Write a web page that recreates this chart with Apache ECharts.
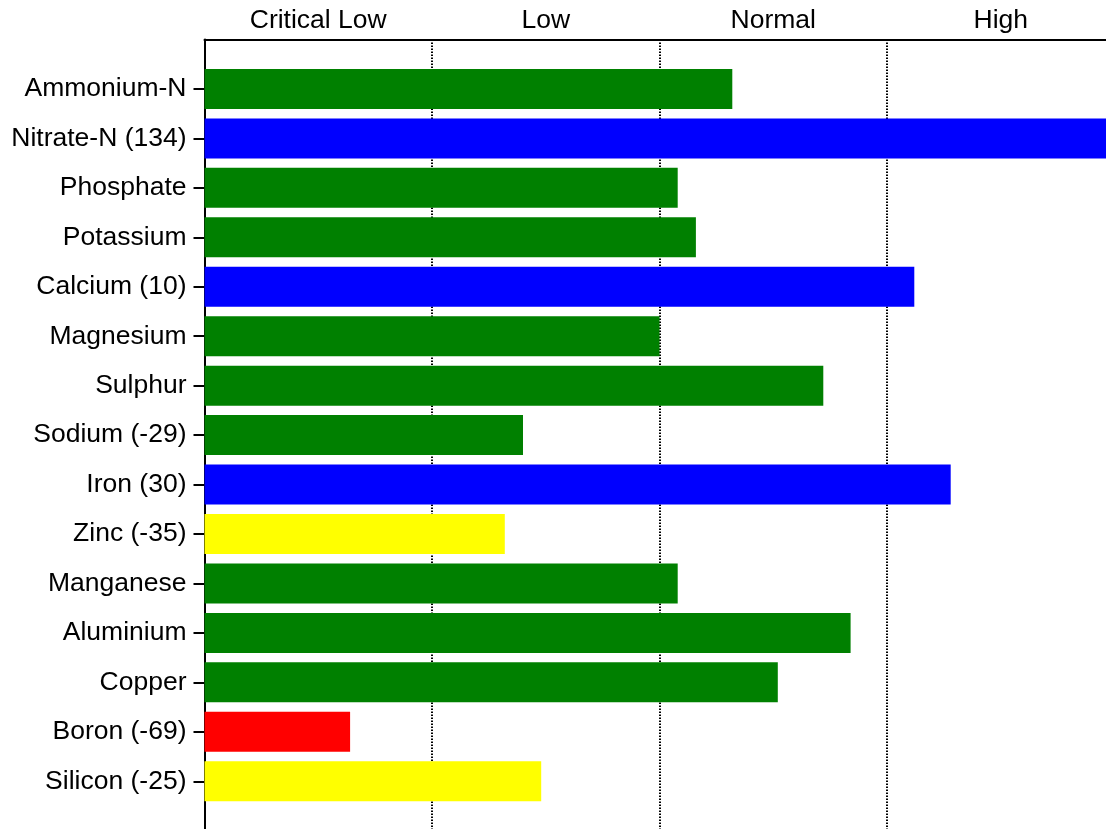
<!DOCTYPE html>
<html><head><meta charset="utf-8">
<script src="https://cdn.jsdelivr.net/npm/echarts@6/dist/echarts.min.js"></script>
<style>html,body{margin:0;padding:0;background:#fff}#c{width:1106px;height:829px}</style>
</head><body><div id="c"></div>
<script>
const categories = ['Ammonium-N','Nitrate-N (134)','Phosphate','Potassium','Calcium (10)','Magnesium','Sulphur','Sodium (-29)','Iron (30)','Zinc (-35)','Manganese','Aluminium','Copper','Boron (-69)','Silicon (-25)'];
const values = [2.32, 4.0, 2.08, 2.16, 3.12, 2.0, 2.72, 1.40, 3.28, 1.32, 2.08, 2.84, 2.52, 0.64, 1.48];
const statuses = ['normal','high','normal','normal','high','normal','normal','normal','high','low','normal','normal','normal','critical','low'];
const zoneLabels = ['Critical Low','Low','Normal','High'];

const statusColors = {normal:'#008000', high:'#0000ff', low:'#ffff00', critical:'#ff0000'};
const yCats = [' '].concat(categories, ['  ']);
const seriesData = ['-'].concat(values.map((v,i)=>({value:v,itemStyle:{color:statusColors[statuses[i]]}})), ['-']);
const font = 'Liberation Sans, Arial, sans-serif';

const chart = echarts.init(document.getElementById('c'));
chart.setOption({
  animation:false,
  backgroundColor:'#fff',
  grid:{left:204.5, right:-8.5, top:39.5, bottom:-1.7, containLabel:false, outerBoundsMode:'none'},
  xAxis:[{
    type:'value', position:'top', min:0, max:4, interval:1,
    axisLine:{show:true, lineStyle:{color:'#000', width:2}},
    axisTick:{show:false}, axisLabel:{show:false},
    splitLine:{show:true, lineStyle:{color:'#000', width:2, type:[1.5,1.5]}}
  },{
    type:'category', position:'top', data:zoneLabels, boundaryGap:true,
    axisLine:{show:false}, axisTick:{show:false}, splitLine:{show:false},
    axisLabel:{color:'#000', fontSize:26.5, fontFamily:font, margin:5, interval:0}
  }],
  yAxis:{
    type:'category', inverse:true, boundaryGap:false, data:yCats,
    axisLine:{show:true, lineStyle:{color:'#000', width:2}},
    axisTick:{show:true, length:11, interval:function(i){return i>0 && i<yCats.length-1;}, lineStyle:{color:'#000', width:2}},
    axisLabel:{color:'#000', fontSize:26.5, fontFamily:font, margin:18, interval:0},
    splitLine:{show:false}
  },
  series:[{
    type:'bar', xAxisIndex:0, yAxisIndex:0, barWidth:40, data:seriesData, silent:true
  }]
});
</script></body></html>
